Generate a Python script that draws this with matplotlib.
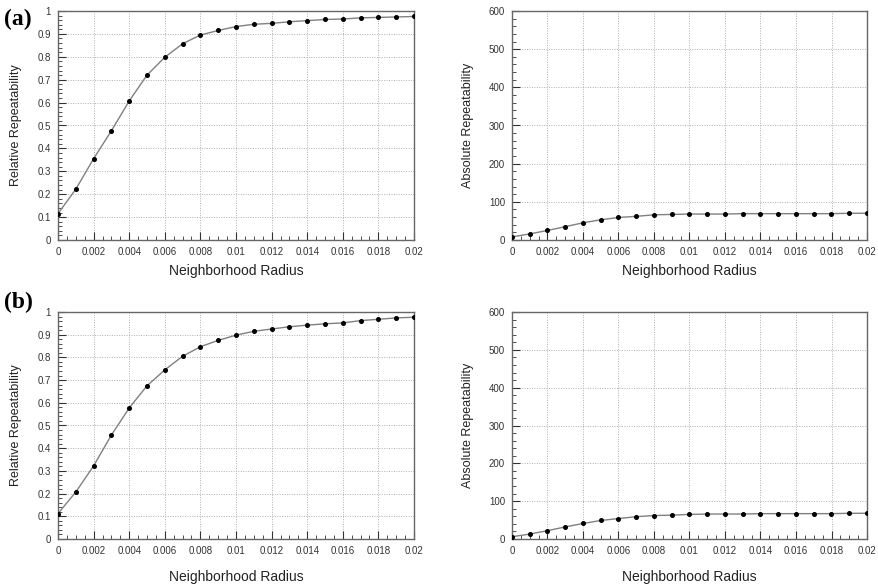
import matplotlib
matplotlib.use("Agg")
import matplotlib.pyplot as plt
from matplotlib.ticker import MultipleLocator, FormatStrFormatter

plt.rcParams['font.family'] = ['Liberation Sans', 'DejaVu Sans']

# 반경 (0 ~ 0.02, 0.001 간격)
radius = [0.0, 0.001, 0.002, 0.003, 0.004, 0.005, 0.006, 0.007, 0.008, 0.009, 0.010,
          0.011, 0.012, 0.013, 0.014, 0.015, 0.016, 0.017, 0.018, 0.019, 0.020]

# (a) 상대 / 절대 반복성
rel_a = [0.115, 0.222, 0.355, 0.477, 0.607, 0.720, 0.798, 0.857, 0.895, 0.915, 0.932,
         0.942, 0.946, 0.953, 0.958, 0.963, 0.965, 0.970, 0.972, 0.974, 0.976]
abs_a = [8, 16, 25, 35, 45, 53, 59, 62, 66, 67, 68,
         68, 68, 69, 69, 69, 69, 69, 69, 70, 70]

# (b) 상대 / 절대 반복성
rel_b = [0.112, 0.207, 0.322, 0.458, 0.577, 0.675, 0.745, 0.805, 0.847, 0.875, 0.898,
         0.915, 0.925, 0.935, 0.942, 0.948, 0.952, 0.962, 0.968, 0.974, 0.977]
abs_b = [6, 13, 22, 32, 41, 49, 54, 59, 62, 63, 65,
         66, 66, 66, 67, 67, 67, 67, 67, 68, 68]

W, H = 879, 587
fig = plt.figure(figsize=(W / 100, H / 100), dpi=100)


def make_ax(left, top, right, bottom):
    return fig.add_axes([left / W, 1 - bottom / H, (right - left) / W, (bottom - top) / H])


def style(ax, ys, ylim, ymaj, ymin, yfmt, ylabel, xpad):
    ax.plot(radius, ys, color='#808080', lw=1.0, marker='o', ms=2.6,
            mfc='black', mec='black', zorder=3)
    ax.set_xlim(0, 0.02)
    ax.set_ylim(*ylim)
    ax.xaxis.set_major_locator(MultipleLocator(0.002))
    ax.xaxis.set_minor_locator(MultipleLocator(0.0005))
    ax.yaxis.set_major_locator(MultipleLocator(ymaj))
    ax.yaxis.set_minor_locator(MultipleLocator(ymin))
    ax.yaxis.set_major_formatter(FormatStrFormatter(yfmt))
    ax.xaxis.set_major_formatter(plt.FuncFormatter(
        lambda v, p: '0' if abs(v) < 1e-12 else ('%.3f' % v).rstrip('0')))
    ax.grid(True, which='major', color='#b0b0b0', ls=(0, (1, 1.5)), lw=0.7)
    ax.tick_params(which='both', direction='in', top=False, right=False,
                   labelsize=7, colors='#333333', pad=5)
    ax.tick_params(which='major', length=6, width=0.8)
    ax.tick_params(which='minor', length=3, width=0.6)
    for s in ax.spines.values():
        s.set_color('#666666')
        s.set_linewidth(1.0)
    ax.set_xlabel('Neighborhood Radius', fontsize=10, labelpad=xpad, color='#222222')
    ax.set_ylabel(ylabel, fontsize=9, labelpad=11, color='#222222')


# 위쪽 (a), 아래쪽 (b)
ax1 = make_ax(58, 11, 414, 240)
style(ax1, rel_a, (0, 1), 0.1, 0.02, '%g', 'Relative Repeatability', 5)
ax2 = make_ax(512, 11, 867, 240)
style(ax2, abs_a, (0, 600), 100, 20, '%d', 'Absolute Repeatability', 5)
ax3 = make_ax(58, 312, 414, 539)
style(ax3, rel_b, (0, 1), 0.1, 0.02, '%g', 'Relative Repeatability', 10)
ax4 = make_ax(512, 312, 867, 539)
style(ax4, abs_b, (0, 600), 100, 20, '%d', 'Absolute Repeatability', 10)

fig.text(4 / W, 1 - 19 / H, '(a)', fontsize=17, fontweight='bold',
         family=['Liberation Serif', 'DejaVu Serif'], va='center')
fig.text(4 / W, 1 - 302 / H, '(b)', fontsize=17, fontweight='bold',
         family=['Liberation Serif', 'DejaVu Serif'], va='center')

fig.savefig('out.png', dpi=100)
